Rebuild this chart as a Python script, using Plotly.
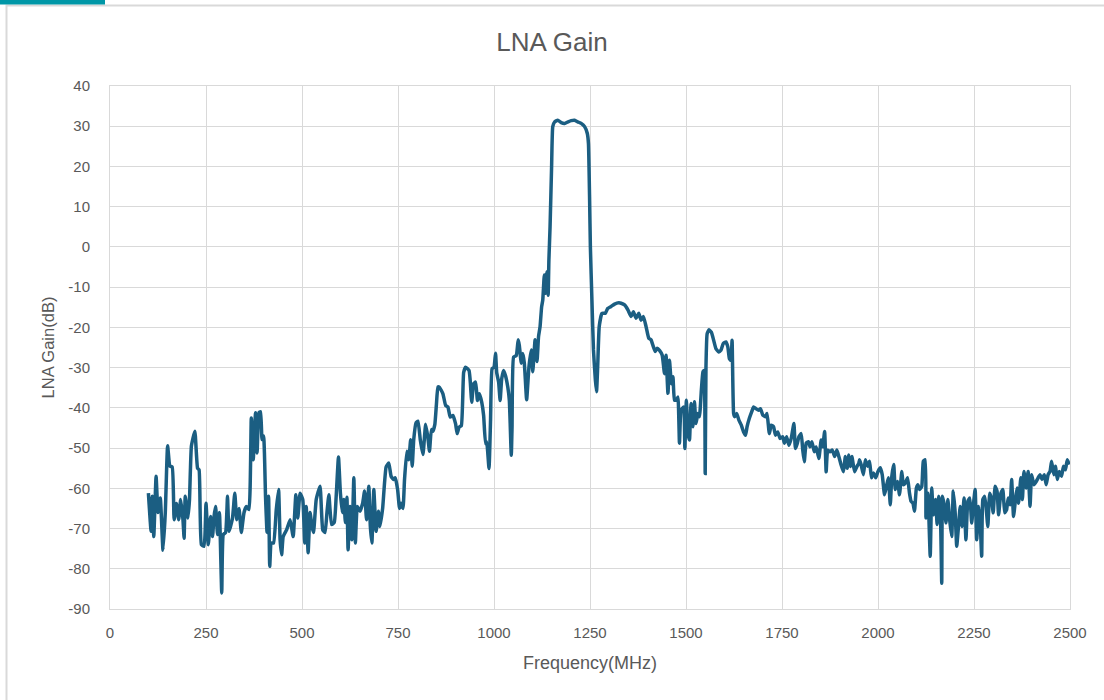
import plotly.graph_objects as go

freq_mhz = [
    100, 107, 110, 114, 120, 125, 131, 138, 144, 150, 156, 162, 167, 173, 179, 184, 190, 193, 196, 203,
    207, 212, 221, 228, 232, 238, 245, 250, 256, 262, 267, 271, 275, 280, 285, 291, 295, 301, 306, 310,
    319, 325, 330, 336, 342, 349, 355, 362, 368, 373, 379, 383, 388, 392, 396, 400, 405, 409, 413, 416,
    420, 426, 433, 439, 443, 447, 451, 460, 469, 477, 484,
    489, 495, 502, 507, 511, 516, 521, 526, 530, 537, 547, 554, 560, 565, 570, 577, 584, 589, 595, 600,
    605, 609, 613, 617, 620, 625, 630, 635, 639, 644, 651, 658, 663, 668, 674, 678, 682, 687, 693, 699,
    703, 710, 719, 726, 732, 738, 743, 749, 754, 758, 763, 767, 773, 778, 783, 787, 791, 797, 802, 808,
    815, 822, 828, 832, 837, 841, 846, 850, 854,
    858, 867, 874, 880, 886, 893, 900, 904, 909, 915, 921, 926, 935, 938, 942, 947, 952, 957, 962, 968,
    973, 978, 981, 987, 991, 995, 1000, 1004, 1007, 1012, 1016, 1020, 1025, 1030, 1036, 1040, 1045, 1047,
    1051, 1058, 1063,
    1066, 1071, 1075, 1079, 1085, 1091, 1097, 1101, 1107, 1112, 1116, 1120, 1124, 1127, 1131, 1134, 1138,
    1141, 1143, 1146, 1150, 1153, 1158, 1166, 1175, 1184, 1193, 1201, 1210, 1218, 1227, 1236, 1243, 1246,
    1249, 1251, 1255, 1259, 1264, 1267, 1270, 1274,
    1281, 1290, 1296, 1305, 1314, 1325, 1331, 1340, 1349, 1357, 1363, 1370, 1377, 1383, 1389, 1396, 1403,
    1409, 1415, 1420, 1425,
    1431, 1438, 1444, 1448, 1453, 1457, 1462, 1466, 1470, 1475, 1479, 1483, 1487, 1494, 1497, 1501, 1505,
    1509, 1513, 1518, 1522, 1526, 1531, 1535, 1540, 1544, 1547, 1550, 1552, 1555, 1560, 1566, 1572, 1578,
    1585, 1591, 1597, 1604, 1609, 1613, 1617, 1620, 1624, 1627, 1632, 1638, 1644, 1650, 1655, 1659, 1665,
    1671, 1676, 1682, 1689, 1694, 1700, 1707, 1711, 1717, 1722, 1728, 1733, 1739, 1745, 1752, 1756, 1762,
    1768, 1774, 1781, 1785, 1790, 1794, 1800, 1804, 1808, 1813, 1819, 1823, 1828, 1834, 1839, 1846, 1852,
    1856, 1861, 1865, 1869, 1875, 1881, 1887, 1893, 1898, 1904, 1910, 1915, 1920, 1924, 1928, 1932, 1939,
    1945, 1950,
    1952, 1956, 1962, 1967, 1973, 1978, 1983, 1988, 1994, 2000, 2006, 2011, 2017, 2022, 2027, 2032, 2036,
    2041, 2045, 2051, 2056, 2062, 2066, 2071, 2077, 2082, 2086, 2091, 2095, 2100, 2104, 2108, 2114, 2118,
    2123, 2125, 2130, 2136, 2140, 2144, 2150, 2154, 2158, 2162, 2166, 2168, 2173, 2177, 2182, 2187, 2192,
    2196, 2201, 2205, 2210, 2214, 2219, 2224, 2229, 2234, 2239, 2244, 2248, 2253, 2257, 2262, 2266, 2270,
    2273, 2278, 2282, 2286, 2291, 2296, 2300, 2305, 2310, 2314, 2320, 2325, 2330, 2335, 2339, 2344, 2348,
    2353, 2358, 2362, 2366, 2372, 2376, 2380, 2386, 2391, 2396, 2400, 2406, 2412, 2417, 2422, 2427, 2433,
    2438, 2443, 2448, 2452, 2458, 2462, 2467, 2472, 2478, 2483, 2488, 2493, 2498,
]

gain_db = [
    -61.2, -70.7, -62, -72, -57, -66, -62.4, -75.4, -66, -49.4, -54.5, -54.7, -67.8, -63.8, -67.8, -62.8, -67.8, -72.4, -62, -67.4,
    -62.8, -49.5, -45.8, -55, -55.4, -74, -74.4, -63.7, -74, -67, -72, -67, -64.5, -71.5, -66, -86, -71.5, -71, -62, -70.7,
    -67.4, -61.2, -67.8, -65, -71, -66, -64.5, -65.3, -42.5, -52.9, -41.2, -51.2, -41.2, -41, -47.9, -47, -62, -71, -62, -79.4,
    -73.6, -73.6, -65.3, -60.3, -72.8, -76.5, -72, -70.3, -67.8, -72, -61.6,
    -67.4, -61.2, -62.8, -73.6, -64.5, -76, -66, -69.5, -71, -62.8, -59.5, -70.3, -71, -66, -61.6, -69, -68.5, -62, -52.2, -61.2,
    -66, -62.8, -68.5, -62.2, -75.3, -64.5, -72.8, -57.4, -73.6, -64.5, -65.7, -63.7, -60.7, -67.8, -59.5, -69.5, -73.6, -60.3, -70.7, -65.7,
    -69.5, -65, -54.7, -53.7, -57, -57.8, -57.4, -60.3, -65, -63.7, -65, -57.8, -50.8, -52.9, -47.9, -54.5, -47.9, -43.7, -43.3, -47.9,
    -51.6, -44.1, -47.5, -50.8, -45.4, -45.8, -44.1, -39.2, -34.8,
    -34.9, -36.5, -39.4, -39.8, -42.3, -41.9, -44, -46.4, -44.8, -44.4, -31.2, -29.9, -30.7, -33.2, -38.6, -34, -33.6, -38.2, -36.5, -38.6,
    -41.9, -48.9, -48.5, -55.1, -43.1, -30.3, -29.9, -26.4, -31.2, -33.6, -38.2, -32.8, -30.7, -32, -34.9, -38.2, -51.8, -44.8,
    -27.4, -27, -23.1,
    -24.5, -28.9, -26.5, -28.9, -38, -29.8, -25.6, -31, -23.1, -28.5, -22.3, -19.8, -14.9, -13.2, -7, -11.5, -6.2,
    -12, -3.2, 5, 20, 29.9, 31.1, 31.5, 30.9, 30.7, 31.1, 31.4, 31.5, 31.1, 30.7, 29.9, 28.2, 25.7,
    11.6, 0, -13.2, -25.6, -33.1, -36, -29.8, -19.8,
    -16.5, -16.5, -15.3, -14.8, -14.2, -13.9, -14, -14.4, -15.7, -17.3, -16.1, -17.7, -16.5, -18.2, -17.3, -19.8, -22.7,
    -23.1, -24.8, -26, -25.2,
    -25.7, -26.9, -31.5, -26.9, -36.4, -28.2, -34, -32.3, -38.1, -38.1, -37.3, -48.8, -40.6, -39.8, -50.1, -38.1, -46.4,
    -48, -38.9, -44.7, -38.5, -43.9, -41.4, -42.2, -35.6, -31.1, -30.7, -56.3, -29.8, -21.6, -20.6, -21.2, -23.2, -25.3,
    -26.1, -25.7, -24, -23.6, -24.9, -27.8, -28.2, -23.2, -41.4, -42.2, -41.4, -43.1, -44.3, -46, -46.8, -44.7, -42.6,
    -41, -39.8, -40.2, -40.6, -40.2, -41.8, -42.2, -41.4, -46.4, -44.3, -44.7, -46.8, -46, -47.6, -47.2, -48.8, -47.2,
    -49.3, -47.6, -43.9, -50.1, -48.8, -47.2, -46.4, -50.5, -53.4, -48.8, -48.4, -49.7, -48.4, -50.9, -49.7, -52.6, -48,
    -49.7, -45.9, -55.9, -50.5, -50.9, -50.5, -52.1, -50.5, -52.1, -54.2, -55.9, -52.1, -55, -51.7, -54.6, -52.1, -55.9,
    -54.6, -53.8,
    -52.9, -54.1, -56.6, -52.9, -54.5, -53.3, -57.4, -56.2, -57.4, -55.8, -54.9, -56.6, -61.6, -59.5, -57.4, -64.1, -57,
    -54.1, -60.3, -58.3, -61.6, -55.8, -59.1, -58.7, -57.4, -61.2, -63.2, -63.7, -65.7, -59.9, -59.1, -60.3, -59.5, -53.3,
    -52.9, -67.4, -61.2, -76.9, -59.9, -66.6, -62.8, -69, -62, -64.5, -83.6, -62, -64.5, -68.6, -62.8, -68.2, -72,
    -60.7, -66.1, -74.4, -69, -64.5, -69.5, -62.4, -72.8, -63.2, -62.4, -68.6, -64.5, -60.3, -72.8, -64.5, -68.2, -76.9,
    -62.8, -62, -65.3, -69.5, -61.2, -62.8, -66.1, -59.5, -60.7, -66.6, -61.2, -60.3, -66.1, -65.3, -62.4, -64.1, -57.8,
    -67, -62.8, -59.9, -63.7, -57.4, -62.8, -55.8, -59.9, -55.8, -64.5, -56.6, -59.1, -58.3, -57.4, -56.6, -57.8, -56.6,
    -59.1, -56.6, -55.8, -53.3, -56.6, -54.5, -57.8, -55.8, -57, -54.5, -55.4, -52.9, -54.1,
]

x_ticks = [0, 250, 500, 750, 1000, 1250, 1500, 1750, 2000, 2250, 2500]
y_ticks = [40, 30, 20, 10, 0, -10, -20, -30, -40, -50, -60, -70, -80, -90]

font_family = "Liberation Sans, Arial, sans-serif"
grey_text = "#595959"
grid = "#d9d9d9"

fig = go.Figure()
fig.add_trace(go.Scatter(
    x=freq_mhz, y=gain_db, mode="lines",
    line=dict(color="#1b5e82", width=3.5, shape="spline", smoothing=0.4),
    showlegend=False, hoverinfo="x+y",
))

W, H = 1104, 700
L, R, T, B = 110, 34, 86, 91
pw, ph = W - L - R, H - T - B

def px_to_paper_x(px):
    return (px - L) / pw

def px_to_paper_y(py):
    return (H - B - py) / ph

fig.update_layout(
    width=W, height=H,
    margin=dict(l=L, r=R, t=T, b=B),
    paper_bgcolor="white", plot_bgcolor="white",
    font=dict(family=font_family, color=grey_text, size=15),
    title=dict(text="LNA Gain", x=0.5, xanchor="center", y=1 - 42 / H, yanchor="middle",
               font=dict(size=26, color=grey_text, family=font_family)),
    xaxis=dict(
        range=[0, 2500], tickvals=x_ticks, ticktext=[str(v) for v in x_ticks],
        showgrid=True, gridcolor=grid, gridwidth=1,
        showline=True, linecolor=grid, linewidth=1, mirror=True,
        zeroline=False, ticks="", ticklabelstandoff=10,
        tickfont=dict(size=15, color=grey_text),
        title=dict(text="Frequency(MHz)", font=dict(size=18, color=grey_text), standoff=16),
    ),
    yaxis=dict(
        range=[-90, 40], tickvals=y_ticks, ticktext=[str(v) for v in y_ticks],
        showgrid=True, gridcolor=grid, gridwidth=1,
        showline=True, linecolor=grid, linewidth=1, mirror=True,
        zeroline=False, ticks="", ticklabelstandoff=16,
        tickfont=dict(size=15, color=grey_text),
        title=dict(text="LNA Gain(dB)", font=dict(size=16.5, color=grey_text), standoff=9),
    ),
    shapes=[
        dict(type="rect", xref="paper", yref="paper", layer="below",
             x0=px_to_paper_x(6.5), x1=px_to_paper_x(1120), y0=px_to_paper_y(720), y1=px_to_paper_y(5.5),
             line=dict(color="#d9d9d9", width=2), fillcolor="rgba(0,0,0,0)"),
        dict(type="rect", xref="paper", yref="paper", layer="above",
             x0=px_to_paper_x(0), x1=px_to_paper_x(105), y0=px_to_paper_y(4.5), y1=px_to_paper_y(-2),
             line=dict(width=0), fillcolor="#0097a7"),
    ],
)

fig.write_html(
    "out.html",
    config={"displayModeBar": False},
    post_script="document.body.style.margin='0';document.body.style.overflow='hidden';",
)
